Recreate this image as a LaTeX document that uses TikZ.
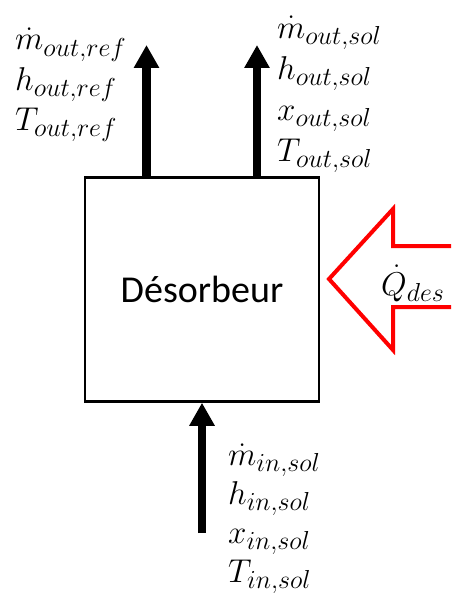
\RequirePackage{fix-cm}
\documentclass[tikz,border=0pt]{standalone}
\usepackage{fontspec}
\setmainfont{Carlito}
\usetikzlibrary{arrows.meta}
\DeclareMathSizes{33}{33}{26}{19}

\tikzset{
  box/.style = {draw, line width=2.5pt, minimum width=234pt, minimum height=224pt,
                inner sep=0pt, font=\fontsize{38}{46}\selectfont},
  flow/.style = {line width=8.5pt, -{Triangle[width=24pt,length=23pt]}},
  var/.style = {anchor=base west, inner sep=0pt, font=\fontsize{33}{38}\selectfont},
  heat/.style = {draw=red, line width=4pt, line join=miter, fill=white}
}

\begin{document}
\begin{tikzpicture}[x=1pt,y=-1pt]
  \clip (0,0) rectangle (451,594);
  \fill[white] (0,0) rectangle (451,594);

  % desorbeur
  \node[box] (des) at (202,289.5) {Désorbeur};

  % outlets
  \coordinate (refout) at (146.5,45);
  \coordinate (solout) at (257,45);
  \draw[flow] (refout |- des.north) -- (refout);
  \draw[flow] (solout |- des.north) -- (solout);

  % inlet
  \coordinate (solin) at (202,533);
  \draw[flow] (solin) -- (solin |- des.south);

  % heat input
  \draw[heat] (329,279) -- (393,209) -- (393,246) -- (460,246)
              -- (460,307) -- (393,307) -- (393,350) -- cycle;
  \node[var] (qdes) at (381,295) {$\dot Q_{des}$};

  % variables
  \foreach \txt [count=\i] in {{\dot m_{out,ref}}, {h_{out,ref}}, {T_{out,ref}}}
    \node[var] (ref\i) at (15,50+40*\i-40) {$\txt$};
  \foreach \txt [count=\i] in {{\dot m_{out,sol}}, {h_{out,sol}}, {x_{out,sol}}, {T_{out,sol}}}
    \node[var] (sol\i) at (277,38+41*\i-41) {$\txt$};
  \foreach \txt [count=\i] in {{\dot m_{in,sol}}, {h_{in,sol}}, {x_{in,sol}}, {T_{in,sol}}}
    \node[var] (in\i) at (228,465+39*\i-39) {$\txt$};
\end{tikzpicture}
\end{document}
